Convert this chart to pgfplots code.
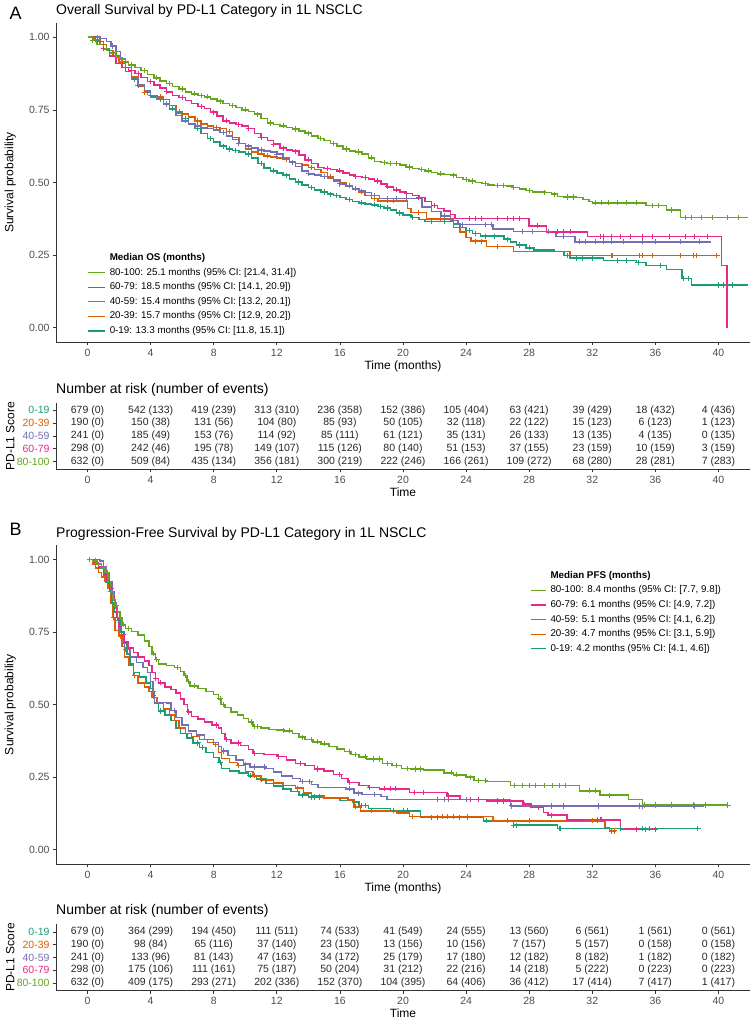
\documentclass[border=0pt]{standalone}
\usepackage{fontspec}
\setmainfont{Liberation Sans}
\usepackage{pgfplots}
\pgfplotsset{compat=1.18}

\definecolor{c0}{HTML}{1B9E77}
\definecolor{c20}{HTML}{D95F02}
\definecolor{c40}{HTML}{7570B3}
\definecolor{c60}{HTML}{E7298A}
\definecolor{c80}{HTML}{66A61E}
\definecolor{axc}{HTML}{333333}
\definecolor{tkc}{HTML}{4D4D4D}

\pgfplotsset{
  kmbase/.style={
    scale only axis, width=694pt,
    xmin=-2, xmax=42, xtick={0,4,...,40},
    axis x line*=bottom, axis y line*=left,
    tick align=outside, major tick length=3pt,
    axis line style={axc, line width=0.9pt},
    tick style={axc, line width=0.7pt},
    tick label style={font=\fontsize{10.5}{12}\selectfont, text=tkc},
    /pgf/number format/assume math mode=true,
    label style={font=\fontsize{12}{14}\selectfont, text=black},
    title style={font=\fontsize{14}{16}\selectfont, at={(axis description cs:0,1)}, anchor=base west, inner sep=0pt},
    xlabel style={at={(axis description cs:0.5,0)}, anchor=base},
    ylabel style={at={(axis description cs:-0.0659,0.5)}, anchor=center},
  },
  surv/.style={kmbase, ymin=-0.05, ymax=1.05, ytick={0,0.25,0.5,0.75,1},
    y tick label style={/pgf/number format/fixed, /pgf/number format/fixed zerofill, /pgf/number format/precision=2},
    ylabel={Survival probability}, xlabel={Time (months)},
    xlabel style={yshift=-27.2pt}, title style={yshift=1.7pt},
    legend style={draw=none, fill=none, inner sep=0pt, outer sep=0pt, row sep=5.6pt, column sep=4.3pt,
      font=\fontsize{9.8}{11}\selectfont, nodes={inner sep=0pt, text height=7pt, text depth=2pt}, cells={anchor=west}},
    reverse legend,
  },
  risk/.style={kmbase, ymin=0.4, ymax=5.6, ytick={1,2,3,4,5},
    yticklabels={{\color{c80}80-100},{\color{c60}60-79},{\color{c40}40-59},{\color{c20}20-39},{\color{c0}0-19}},
    ylabel={PD-L1 Score}, xlabel={Time}, xlabel style={yshift=-27.2pt},
    title={Number at risk (number of events)},
  },
  km/.style={const plot, line width=1.5pt, mark=none},
  cens/.style={only marks, mark=+, mark size=2.6pt, mark options={line width=1pt}, forget plot},
  riskrow/.style={draw=none, mark=none, forget plot, nodes near coords, point meta=explicit symbolic,
    nodes near coords align={center},
    every node near coord/.append style={font=\fontsize{10.5}{12}\selectfont, text=black!85, anchor=center, inner sep=0pt}},
}

\begin{document}
\begin{tikzpicture}
\path[use as bounding box] (0,0) rectangle (755pt,1021pt);
\node[anchor=base west, inner sep=0pt, font=\fontsize{18}{20}\selectfont] at (9.3pt,1001pt) {A};
\node[anchor=base west, inner sep=0pt, font=\fontsize{18}{20}\selectfont] at (9.3pt,485pt) {B};

% ================= Panel A: OS =================
\begin{axis}[surv, at={(56pt,678.7pt)}, anchor=south west, height=319.6pt,
  title={Overall Survival by PD-L1 Category in 1L NSCLC},
  legend style={at={(axis description cs:0.0455,0.2779)}, anchor=north west},
  legend image code/.code={\draw[#1, line width=1.2pt] (0pt,0pt) -- (16.7pt,0pt);},
]
% 0-19
\addplot[km, color=c0] coordinates {(0,1) (0.4,0.99) (0.8,0.975) (1.2,0.955) (1.6,0.935) (2.0,0.91) (2.4,0.882) (2.8,0.855) (3.2,0.83) (3.6,0.81) (4.0,0.795) (4.4,0.785) (4.8,0.77) (5.2,0.755) (5.6,0.74) (6.0,0.72) (6.4,0.70) (6.8,0.685) (7.2,0.668) (7.6,0.652) (8.0,0.64) (8.4,0.625) (8.8,0.615) (9.2,0.61) (9.6,0.605) (10.0,0.598) (10.4,0.585) (10.8,0.565) (11.2,0.55) (11.6,0.54) (12.0,0.532) (12.4,0.525) (12.8,0.512) (13.2,0.502) (13.6,0.492) (14.0,0.482) (14.4,0.475) (14.8,0.467) (15.2,0.46) (15.6,0.455) (16.0,0.448) (16.4,0.442) (16.8,0.435) (17.2,0.43) (17.6,0.426) (18.0,0.423) (18.4,0.418) (18.8,0.412) (19.2,0.405) (19.6,0.395) (20.0,0.388) (20.5,0.38) (21.0,0.372) (21.4,0.365) (23.2,0.358) (23.6,0.345) (24.0,0.335) (24.4,0.325) (24.9,0.315) (26.4,0.305) (26.8,0.295) (27.2,0.285) (27.8,0.275) (28.3,0.268) (29.6,0.263) (30.2,0.248) (30.6,0.24) (32.7,0.232) (34.8,0.225) (35.4,0.214) (36.7,0.2) (37.7,0.17) (38.3,0.147) (41.9,0.147)};
\addlegendentry{0-19: 13.3 months (95\% CI: [11.8, 15.1])}
\addplot[cens, color=c0] coordinates {(0.6,0.99) (1.4,0.955) (2.2,0.91) (3.0,0.855) (3.8,0.81) (4.6,0.785) (5.4,0.755) (6.2,0.72) (7.0,0.685) (7.8,0.652) (8.6,0.625) (9.0,0.615) (9.4,0.61) (10.2,0.598) (11.0,0.565) (11.8,0.54) (12.6,0.525) (13.4,0.502) (14.2,0.482) (15.0,0.467) (15.4,0.46) (15.8,0.455) (16.6,0.442) (17.4,0.43) (18.2,0.423) (18.6,0.418) (19.0,0.412) (19.8,0.395) (20.6,0.38) (21.8,0.365) (22.6,0.365) (24.2,0.335) (24.6,0.325) (25.2,0.315) (25.8,0.315) (26.6,0.305) (27.4,0.285) (28.0,0.275) (30.4,0.248) (31.0,0.24) (31.4,0.24) (32.0,0.24) (33.6,0.232) (34.2,0.232) (34.9,0.225) (36.3,0.214) (37.8,0.17) (38.1,0.17) (40.0,0.147) (40.3,0.147) (40.9,0.147)};
% 20-39
\addplot[km, color=c20] coordinates {(0,1) (0.4,0.99) (0.8,0.975) (1.2,0.955) (1.6,0.935) (2.0,0.915) (2.4,0.895) (2.8,0.865) (3.2,0.83) (3.6,0.81) (4.0,0.80) (4.4,0.795) (4.8,0.785) (5.2,0.765) (5.6,0.745) (6.0,0.735) (6.4,0.725) (6.8,0.712) (7.2,0.702) (7.6,0.695) (8.0,0.69) (8.4,0.685) (8.8,0.675) (9.2,0.655) (9.6,0.635) (10.0,0.615) (10.4,0.605) (10.8,0.598) (11.2,0.592) (11.6,0.588) (12.0,0.584) (12.4,0.58) (12.8,0.572) (13.2,0.565) (13.6,0.56) (14.0,0.552) (14.4,0.545) (14.8,0.535) (15.2,0.52) (15.6,0.51) (16.0,0.50) (16.4,0.49) (16.8,0.478) (17.2,0.468) (17.6,0.455) (18.0,0.445) (18.4,0.437) (20.3,0.41) (20.5,0.397) (21.5,0.374) (23.2,0.345) (23.6,0.33) (24.0,0.31) (24.3,0.298) (25.3,0.28) (27.0,0.262) (30.6,0.248) (40.1,0.248)};
\addlegendentry{20-39: 15.7 months (95\% CI: [12.9, 20.2])}
\addplot[cens, color=c20] coordinates {(1.0,0.975) (2.2,0.915) (3.6,0.81) (4.6,0.795) (5.8,0.745) (7.0,0.712) (8.2,0.69) (9.0,0.675) (11.4,0.592) (12.6,0.58) (14.2,0.552) (15.4,0.52) (16.6,0.49) (17.4,0.468) (18.2,0.445) (19.0,0.437) (19.4,0.437) (21.0,0.397) (22.4,0.374) (24.6,0.298) (25.0,0.298) (26.0,0.28) (33.2,0.248) (33.3,0.248) (35.0,0.248) (35.2,0.248) (35.8,0.248) (37.6,0.248) (38.4,0.248) (38.6,0.248) (39.9,0.248)};
% 40-59
\addplot[km, color=c40] coordinates {(0,1) (0.8,0.995) (1.2,0.985) (1.5,0.97) (1.8,0.95) (2.1,0.925) (2.4,0.895) (2.8,0.86) (3.2,0.835) (3.6,0.815) (4.0,0.80) (4.4,0.788) (4.8,0.77) (5.2,0.752) (5.6,0.73) (6.0,0.712) (6.4,0.702) (6.8,0.695) (7.2,0.688) (7.6,0.685) (8.0,0.68) (8.4,0.672) (8.8,0.66) (9.2,0.648) (9.6,0.635) (10.0,0.625) (10.4,0.618) (10.8,0.612) (11.2,0.608) (11.6,0.605) (12.0,0.598) (12.4,0.585) (12.8,0.568) (13.2,0.555) (13.6,0.54) (14.0,0.53) (14.4,0.525) (14.8,0.52) (15.2,0.515) (15.6,0.505) (16.0,0.495) (16.4,0.488) (16.8,0.48) (17.2,0.472) (17.6,0.465) (18.0,0.455) (18.5,0.445) (21.2,0.415) (21.8,0.40) (22.4,0.385) (23.0,0.37) (23.5,0.355) (25.7,0.34) (27.0,0.331) (29.7,0.314) (30.9,0.296) (39.5,0.296)};
\addlegendentry{40-59: 15.4 months (95\% CI: [13.2, 20.1])}
\addplot[cens, color=c40] coordinates {(0.6,1) (1.6,0.97) (3.2,0.835) (4.0,0.80) (5.0,0.77) (6.2,0.712) (7.0,0.695) (8.6,0.672) (9.6,0.635) (10.2,0.625) (11.0,0.612) (12.0,0.598) (13.0,0.568) (14.0,0.53) (15.0,0.52) (16.0,0.495) (17.0,0.48) (18.2,0.455) (19.0,0.445) (19.6,0.445) (20.2,0.445) (22.6,0.385) (23.8,0.355) (25.2,0.355) (25.6,0.355) (27.6,0.331) (28.2,0.331) (29.2,0.331) (30.2,0.314) (31.2,0.296) (31.6,0.296) (32.2,0.296) (32.7,0.296) (33.2,0.296) (34.0,0.296) (35.2,0.296) (36.0,0.296) (37.6,0.296) (38.8,0.296)};
% 60-79
\addplot[km, color=c60] coordinates {(0,1) (0.5,0.985) (1.0,0.96) (1.4,0.935) (1.8,0.91) (2.2,0.895) (2.6,0.885) (3.0,0.875) (3.4,0.862) (3.8,0.848) (4.2,0.835) (4.6,0.825) (5.0,0.812) (5.4,0.80) (5.8,0.792) (6.2,0.782) (6.6,0.772) (7.0,0.762) (7.4,0.755) (7.8,0.742) (8.2,0.728) (8.6,0.712) (9.0,0.705) (9.4,0.70) (9.8,0.695) (10.2,0.685) (10.6,0.668) (11.0,0.655) (11.4,0.645) (11.8,0.632) (12.2,0.618) (12.6,0.612) (13.0,0.608) (13.4,0.595) (13.8,0.578) (14.2,0.565) (14.6,0.552) (15.0,0.548) (15.4,0.545) (15.8,0.54) (16.2,0.532) (16.6,0.525) (17.0,0.52) (17.4,0.518) (17.8,0.512) (18.2,0.505) (18.6,0.495) (19.0,0.485) (19.4,0.475) (19.8,0.468) (20.2,0.462) (20.6,0.455) (21.0,0.448) (21.4,0.435) (21.8,0.42) (22.2,0.41) (22.6,0.402) (23.0,0.39) (23.3,0.376) (28.0,0.351) (29.1,0.33) (31.7,0.314) (40.2,0.214) (40.55,0)};
\addlegendentry{60-79: 18.5 months (95\% CI: [14.1, 20.9])}
\addplot[cens, color=c60] coordinates {(1.0,0.96) (2.4,0.895) (3.2,0.875) (4.0,0.848) (5.0,0.812) (6.0,0.792) (7.2,0.762) (8.0,0.742) (8.8,0.712) (9.6,0.70) (10.2,0.685) (11.0,0.655) (11.8,0.632) (12.4,0.618) (13.2,0.608) (14.0,0.578) (15.2,0.548) (16.0,0.54) (17.0,0.52) (17.6,0.518) (18.4,0.505) (19.0,0.485) (19.6,0.475) (20.2,0.462) (21.0,0.448) (22.0,0.42) (24.2,0.376) (24.6,0.376) (25.0,0.376) (26.0,0.376) (26.6,0.376) (27.0,0.376) (27.4,0.376) (28.5,0.351) (29.8,0.33) (30.2,0.33) (30.6,0.33) (32.5,0.314) (32.7,0.314) (33.2,0.314) (33.8,0.314) (34.4,0.314) (35.2,0.314) (35.8,0.314) (36.9,0.314) (37.9,0.314) (38.5,0.314) (39.3,0.314)};
% 80-100
\addplot[km, color=c80] coordinates {(0,1) (0.3,0.99) (0.6,0.975) (1.0,0.96) (1.4,0.945) (1.8,0.93) (2.2,0.915) (2.6,0.905) (3.0,0.895) (3.4,0.885) (3.8,0.872) (4.2,0.86) (4.6,0.85) (5.0,0.84) (5.4,0.83) (5.8,0.822) (6.2,0.812) (6.6,0.805) (7.0,0.80) (7.4,0.795) (7.8,0.788) (8.2,0.78) (8.6,0.772) (9.0,0.765) (9.4,0.758) (9.8,0.75) (10.2,0.745) (10.6,0.735) (11.0,0.72) (11.4,0.705) (11.8,0.70) (12.2,0.695) (12.6,0.69) (13.0,0.684) (13.4,0.678) (13.8,0.67) (14.2,0.66) (14.6,0.652) (15.0,0.645) (15.4,0.635) (15.8,0.625) (16.2,0.615) (16.6,0.608) (17.0,0.605) (17.4,0.598) (17.8,0.585) (18.2,0.572) (18.6,0.568) (19.0,0.566) (19.4,0.565) (19.8,0.56) (20.2,0.553) (20.6,0.548) (21.0,0.545) (21.4,0.54) (21.8,0.535) (22.2,0.53) (22.6,0.528) (23.0,0.525) (23.4,0.518) (23.8,0.51) (24.2,0.505) (24.6,0.50) (25.0,0.496) (25.4,0.492) (25.8,0.49) (26.6,0.488) (27.0,0.482) (27.4,0.478) (27.8,0.472) (28.2,0.468) (29.0,0.466) (29.4,0.46) (29.8,0.452) (30.2,0.45) (31.0,0.448) (31.4,0.442) (31.8,0.435) (32.0,0.43) (35.4,0.42) (36.7,0.405) (37.6,0.38) (41.9,0.38)};
\addlegendentry{80-100: 25.1 months (95\% CI: [21.4, 31.4])}
\addplot[cens, color=c80] coordinates {(0.3,0.99) (1.2,0.96) (2.0,0.93) (2.8,0.905) (3.6,0.885) (4.4,0.86) (5.2,0.84) (6.0,0.822) (6.8,0.805) (7.2,0.80) (7.6,0.795) (8.4,0.78) (9.2,0.765) (10.0,0.75) (10.8,0.735) (11.6,0.705) (12.4,0.695) (13.2,0.684) (14.0,0.67) (14.8,0.652) (15.6,0.635) (16.4,0.615) (17.2,0.605) (18.0,0.585) (18.8,0.568) (19.2,0.566) (19.6,0.565) (20.4,0.553) (21.2,0.545) (21.6,0.54) (22.4,0.53) (23.2,0.525) (24.0,0.51) (24.4,0.505) (25.2,0.496) (26.0,0.49) (26.4,0.49) (27.0,0.482) (28.0,0.472) (29.0,0.466) (29.6,0.46) (30.4,0.45) (30.8,0.45) (32.2,0.43) (32.6,0.43) (33.0,0.43) (33.6,0.43) (34.2,0.43) (34.8,0.43) (35.8,0.42) (36.2,0.42) (37.0,0.405) (37.9,0.38) (38.3,0.38) (38.9,0.38) (39.6,0.38) (40.6,0.38) (41.3,0.38)};
\addlegendimage{empty legend}
\addlegendentry{\textbf{Median OS (months)}}
\end{axis}

% ================= Risk table A =================
\begin{axis}[risk, at={(56pt,551.7pt)}, anchor=south west, height=66.6pt, title style={yshift=3.4pt}]
\addplot[riskrow] table[col sep=comma, row sep=\\, x=x, y=y, meta=l] {
x,y,l\\
0,5,679 (0)\\4,5,542 (133)\\8,5,419 (239)\\12,5,313 (310)\\16,5,236 (358)\\20,5,152 (386)\\24,5,105 (404)\\28,5,63 (421)\\32,5,39 (429)\\36,5,18 (432)\\40,5,4 (436)\\
0,4,190 (0)\\4,4,150 (38)\\8,4,131 (56)\\12,4,104 (80)\\16,4,85 (93)\\20,4,50 (105)\\24,4,32 (118)\\28,4,22 (122)\\32,4,15 (123)\\36,4,6 (123)\\40,4,1 (123)\\
0,3,241 (0)\\4,3,185 (49)\\8,3,153 (76)\\12,3,114 (92)\\16,3,85 (111)\\20,3,61 (121)\\24,3,35 (131)\\28,3,26 (133)\\32,3,13 (135)\\36,3,4 (135)\\40,3,0 (135)\\
0,2,298 (0)\\4,2,242 (46)\\8,2,195 (78)\\12,2,149 (107)\\16,2,115 (126)\\20,2,80 (140)\\24,2,51 (153)\\28,2,37 (155)\\32,2,23 (159)\\36,2,10 (159)\\40,2,3 (159)\\
0,1,632 (0)\\4,1,509 (84)\\8,1,435 (134)\\12,1,356 (181)\\16,1,300 (219)\\20,1,222 (246)\\24,1,166 (261)\\28,1,109 (272)\\32,1,68 (280)\\36,1,28 (281)\\40,1,7 (283)\\
};
\end{axis}

% ================= Panel B: PFS =================
\begin{axis}[surv, at={(56pt,156.7pt)}, anchor=south west, height=319.3pt,
  title={Progression-Free Survival by PD-L1 Category in 1L NSCLC},
  legend style={at={(axis description cs:0.683,0.9175)}, anchor=north west},
  legend image code/.code={\draw[#1, line width=1.2pt] (0pt,0pt) -- (15pt,0pt);},
]
% 0-19
\addplot[km, color=c0] coordinates {(0,1) (0.4,0.99) (0.7,0.97) (1.0,0.945) (1.2,0.92) (1.4,0.89) (1.55,0.85) (1.7,0.82) (1.9,0.79) (2.1,0.75) (2.3,0.71) (2.5,0.675) (2.7,0.64) (2.9,0.61) (3.3,0.595) (3.7,0.575) (4.0,0.555) (4.15,0.53) (4.25,0.505) (4.5,0.478) (4.9,0.465) (5.3,0.445) (5.6,0.42) (5.9,0.40) (6.3,0.385) (6.7,0.368) (7.1,0.352) (7.5,0.335) (8.0,0.318) (8.35,0.30) (8.5,0.28) (9.0,0.272) (9.6,0.265) (10.2,0.255) (10.7,0.243) (11.3,0.228) (11.8,0.22) (12.4,0.21) (12.9,0.20) (13.4,0.188) (14.0,0.182) (15.0,0.178) (16.0,0.17) (16.8,0.165) (17.2,0.152) (17.8,0.142) (19.2,0.134) (21.1,0.111) (25.1,0.10) (27.0,0.085) (29.8,0.073) (38.7,0.073)};
\addlegendentry{0-19: 4.2 months (95\% CI: [4.1, 4.6])}
\addplot[cens, color=c0] coordinates {(1.25,0.92) (1.45,0.89) (1.6,0.85) (2.0,0.79) (4.2,0.53) (4.6,0.478) (7.0,0.368) (7.3,0.352) (8.4,0.30) (10.3,0.255) (11.0,0.243) (13.6,0.188) (14.2,0.182) (14.4,0.182) (14.7,0.182) (17.4,0.152) (17.6,0.152) (19.4,0.134) (20.0,0.134) (20.3,0.134) (21.8,0.111) (22.2,0.111) (23.6,0.111) (24.1,0.111) (25.3,0.10) (27.0,0.085) (27.2,0.085) (29.9,0.073) (30.0,0.073) (33.8,0.073) (35.2,0.073) (35.6,0.073) (38.7,0.073)};
% 20-39
\addplot[km, color=c20] coordinates {(0,1) (0.3,0.985) (0.5,0.97) (0.7,0.955) (0.9,0.94) (1.1,0.925) (1.3,0.90) (1.45,0.85) (1.6,0.80) (1.75,0.755) (2.0,0.735) (2.2,0.70) (2.35,0.665) (2.6,0.635) (2.9,0.60) (3.2,0.575) (3.6,0.56) (3.9,0.545) (4.1,0.525) (4.4,0.505) (4.8,0.485) (5.2,0.465) (5.5,0.445) (5.8,0.42) (6.2,0.40) (6.6,0.39) (7.1,0.38) (7.6,0.37) (8.0,0.362) (8.3,0.335) (8.5,0.315) (9.0,0.30) (9.5,0.29) (10.0,0.27) (10.5,0.255) (11.0,0.24) (11.8,0.23) (12.4,0.222) (13.2,0.212) (13.7,0.195) (14.2,0.185) (15.0,0.178) (16.5,0.172) (16.9,0.148) (17.3,0.134) (19.6,0.126) (20.4,0.114) (25.7,0.10) (32.8,0.077) (33.1,0.065) (33.5,0.065)};
\addlegendentry{20-39: 4.7 months (95\% CI: [3.1, 5.9])}
\addplot[cens, color=c20] coordinates {(1.65,0.80) (2.1,0.735) (3.0,0.60) (8.1,0.362) (9.6,0.29) (10.6,0.255) (13.3,0.212) (17.0,0.148) (18.0,0.134) (20.6,0.114) (22.5,0.114) (22.8,0.114) (23.2,0.114) (24.1,0.114) (26.6,0.10) (28.0,0.10) (32.0,0.10) (32.3,0.10) (33.2,0.065) (33.4,0.065)};
% 40-59
\addplot[km, color=c40] coordinates {(0,1) (0.8,0.995) (1.0,0.975) (1.2,0.955) (1.4,0.925) (1.55,0.89) (1.7,0.85) (1.85,0.80) (2.0,0.76) (2.15,0.72) (2.35,0.69) (2.7,0.665) (3.1,0.645) (3.5,0.628) (3.8,0.61) (4.0,0.58) (4.15,0.545) (4.25,0.508) (5.0,0.505) (5.3,0.48) (5.6,0.455) (6.0,0.43) (6.4,0.41) (6.9,0.395) (7.4,0.38) (8.0,0.37) (8.3,0.355) (8.5,0.34) (8.9,0.325) (9.4,0.31) (9.9,0.295) (10.3,0.285) (11.3,0.28) (11.8,0.268) (12.3,0.255) (13.0,0.245) (13.5,0.235) (14.2,0.225) (14.6,0.215) (16.4,0.21) (16.9,0.195) (17.4,0.19) (18.6,0.183) (19.0,0.174) (26.8,0.151) (39.1,0.151)};
\addlegendentry{40-59: 5.1 months (95\% CI: [4.1, 6.2])}
\addplot[cens, color=c40] coordinates {(1.6,0.89) (2.4,0.69) (4.2,0.545) (5.5,0.48) (8.6,0.34) (10.0,0.295) (10.6,0.285) (11.2,0.285) (13.6,0.235) (14.1,0.235) (16.6,0.21) (17.2,0.195) (18.2,0.19) (22.2,0.174) (22.6,0.174) (22.9,0.174) (24.0,0.174) (26.9,0.151) (29.4,0.151) (30.2,0.151) (32.4,0.151) (35.0,0.151) (35.2,0.151) (38.5,0.151)};
% 60-79
\addplot[km, color=c60] coordinates {(0,1) (0.4,0.99) (0.7,0.975) (1.0,0.95) (1.2,0.93) (1.4,0.90) (1.55,0.87) (1.7,0.84) (1.85,0.80) (2.0,0.77) (2.15,0.74) (2.35,0.715) (2.6,0.695) (2.9,0.68) (3.2,0.665) (3.6,0.65) (3.9,0.635) (4.1,0.61) (4.3,0.59) (4.5,0.575) (4.9,0.56) (5.3,0.552) (5.6,0.54) (5.9,0.52) (6.1,0.50) (6.35,0.475) (6.6,0.46) (7.0,0.45) (7.4,0.44) (7.9,0.43) (8.3,0.42) (8.5,0.40) (8.7,0.38) (9.1,0.368) (9.7,0.36) (10.2,0.345) (10.5,0.332) (11.2,0.328) (12.0,0.322) (12.6,0.31) (13.2,0.298) (13.8,0.29) (14.4,0.278) (15.0,0.272) (15.6,0.26) (16.1,0.245) (16.5,0.232) (17.2,0.222) (17.8,0.215) (18.5,0.21) (20.4,0.197) (22.8,0.185) (23.6,0.174) (25.3,0.168) (27.6,0.157) (28.1,0.145) (28.9,0.128) (29.2,0.119) (30.4,0.103) (33.8,0.071) (36.0,0.071)};
\addlegendentry{60-79: 6.1 months (95\% CI: [4.9, 7.2])}
\addplot[cens, color=c60] coordinates {(1.5,0.90) (2.3,0.74) (4.3,0.59) (4.6,0.575) (6.4,0.475) (8.2,0.43) (8.8,0.38) (9.6,0.368) (10.6,0.332) (12.1,0.322) (13.5,0.298) (14.6,0.278) (16.0,0.26) (16.6,0.232) (17.9,0.215) (18.8,0.21) (19.2,0.21) (19.5,0.21) (20.7,0.197) (21.3,0.197) (22.9,0.185) (24.3,0.174) (24.8,0.174) (26.0,0.168) (26.4,0.168) (27.7,0.157) (28.6,0.145) (29.4,0.119) (32.3,0.103) (32.5,0.103) (32.6,0.103) (34.8,0.071) (35.4,0.071) (36.0,0.071)};
% 80-100
\addplot[km, color=c80] coordinates {(0,1) (0.3,0.995) (0.6,0.985) (0.9,0.97) (1.1,0.955) (1.3,0.92) (1.45,0.89) (1.6,0.86) (1.75,0.84) (1.9,0.82) (2.05,0.80) (2.2,0.775) (2.4,0.762) (2.8,0.752) (3.2,0.74) (3.6,0.72) (3.9,0.70) (4.1,0.675) (4.3,0.655) (4.5,0.64) (5.0,0.635) (5.5,0.628) (5.9,0.615) (6.1,0.60) (6.3,0.58) (6.5,0.565) (7.0,0.555) (7.5,0.545) (8.0,0.535) (8.3,0.52) (8.45,0.50) (8.7,0.49) (9.1,0.475) (9.5,0.465) (9.9,0.452) (10.2,0.44) (10.5,0.425) (11.0,0.42) (11.5,0.415) (12.0,0.412) (12.5,0.41) (13.0,0.40) (13.4,0.388) (13.8,0.38) (14.3,0.372) (14.8,0.365) (15.3,0.356) (15.8,0.348) (16.3,0.338) (16.7,0.328) (17.2,0.32) (17.7,0.313) (18.7,0.298) (19.3,0.29) (19.9,0.28) (20.5,0.278) (21.3,0.275) (22.6,0.265) (23.2,0.258) (24.0,0.25) (24.5,0.238) (25.3,0.235) (26.8,0.222) (31.2,0.203) (32.5,0.188) (34.3,0.174) (35.2,0.154) (40.6,0.154)};
\addlegendentry{80-100: 8.4 months (95\% CI: [7.7, 9.8])}
\addplot[cens, color=c80] coordinates {(0.1,1) (0.5,0.995) (1.25,0.955) (1.5,0.89) (1.8,0.84) (2.1,0.80) (2.3,0.775) (2.6,0.762) (4.2,0.675) (4.4,0.655) (5.7,0.628) (6.2,0.60) (6.4,0.58) (6.8,0.565) (8.4,0.52) (8.6,0.50) (10.4,0.44) (10.6,0.425) (10.8,0.425) (12.4,0.412) (12.8,0.41) (13.6,0.388) (14.2,0.38) (14.6,0.372) (15.0,0.365) (16.6,0.338) (17.0,0.328) (17.6,0.32) (18.1,0.313) (18.5,0.313) (19.0,0.298) (19.6,0.29) (20.3,0.28) (20.8,0.278) (21.1,0.278) (23.1,0.265) (23.4,0.258) (24.3,0.25) (24.8,0.238) (25.2,0.238) (27.1,0.222) (27.6,0.222) (28.0,0.222) (28.4,0.222) (29.0,0.222) (29.5,0.222) (29.9,0.222) (30.3,0.222) (31.8,0.203) (32.2,0.203) (33.1,0.188) (35.3,0.154) (36.0,0.154) (37.0,0.154) (38.4,0.154) (39.2,0.154) (40.6,0.154)};
\addlegendimage{empty legend}
\addlegendentry{\textbf{Median PFS (months)}}
\end{axis}

% ================= Risk table B =================
\begin{axis}[risk, at={(56pt,30.5pt)}, anchor=south west, height=66pt, title style={yshift=3.5pt}]
\addplot[riskrow] table[col sep=comma, row sep=\\, x=x, y=y, meta=l] {
x,y,l\\
0,5,679 (0)\\4,5,364 (299)\\8,5,194 (450)\\12,5,111 (511)\\16,5,74 (533)\\20,5,41 (549)\\24,5,24 (555)\\28,5,13 (560)\\32,5,6 (561)\\36,5,1 (561)\\40,5,0 (561)\\
0,4,190 (0)\\4,4,98 (84)\\8,4,65 (116)\\12,4,37 (140)\\16,4,23 (150)\\20,4,13 (156)\\24,4,10 (156)\\28,4,7 (157)\\32,4,5 (157)\\36,4,0 (158)\\40,4,0 (158)\\
0,3,241 (0)\\4,3,133 (96)\\8,3,81 (143)\\12,3,47 (163)\\16,3,34 (172)\\20,3,25 (179)\\24,3,17 (180)\\28,3,12 (182)\\32,3,8 (182)\\36,3,1 (182)\\40,3,0 (182)\\
0,2,298 (0)\\4,2,175 (106)\\8,2,111 (161)\\12,2,75 (187)\\16,2,50 (204)\\20,2,31 (212)\\24,2,22 (216)\\28,2,14 (218)\\32,2,5 (222)\\36,2,0 (223)\\40,2,0 (223)\\
0,1,632 (0)\\4,1,409 (175)\\8,1,293 (271)\\12,1,202 (336)\\16,1,152 (370)\\20,1,104 (395)\\24,1,64 (406)\\28,1,36 (412)\\32,1,17 (414)\\36,1,7 (417)\\40,1,1 (417)\\
};
\end{axis}
\end{tikzpicture}
\end{document}
